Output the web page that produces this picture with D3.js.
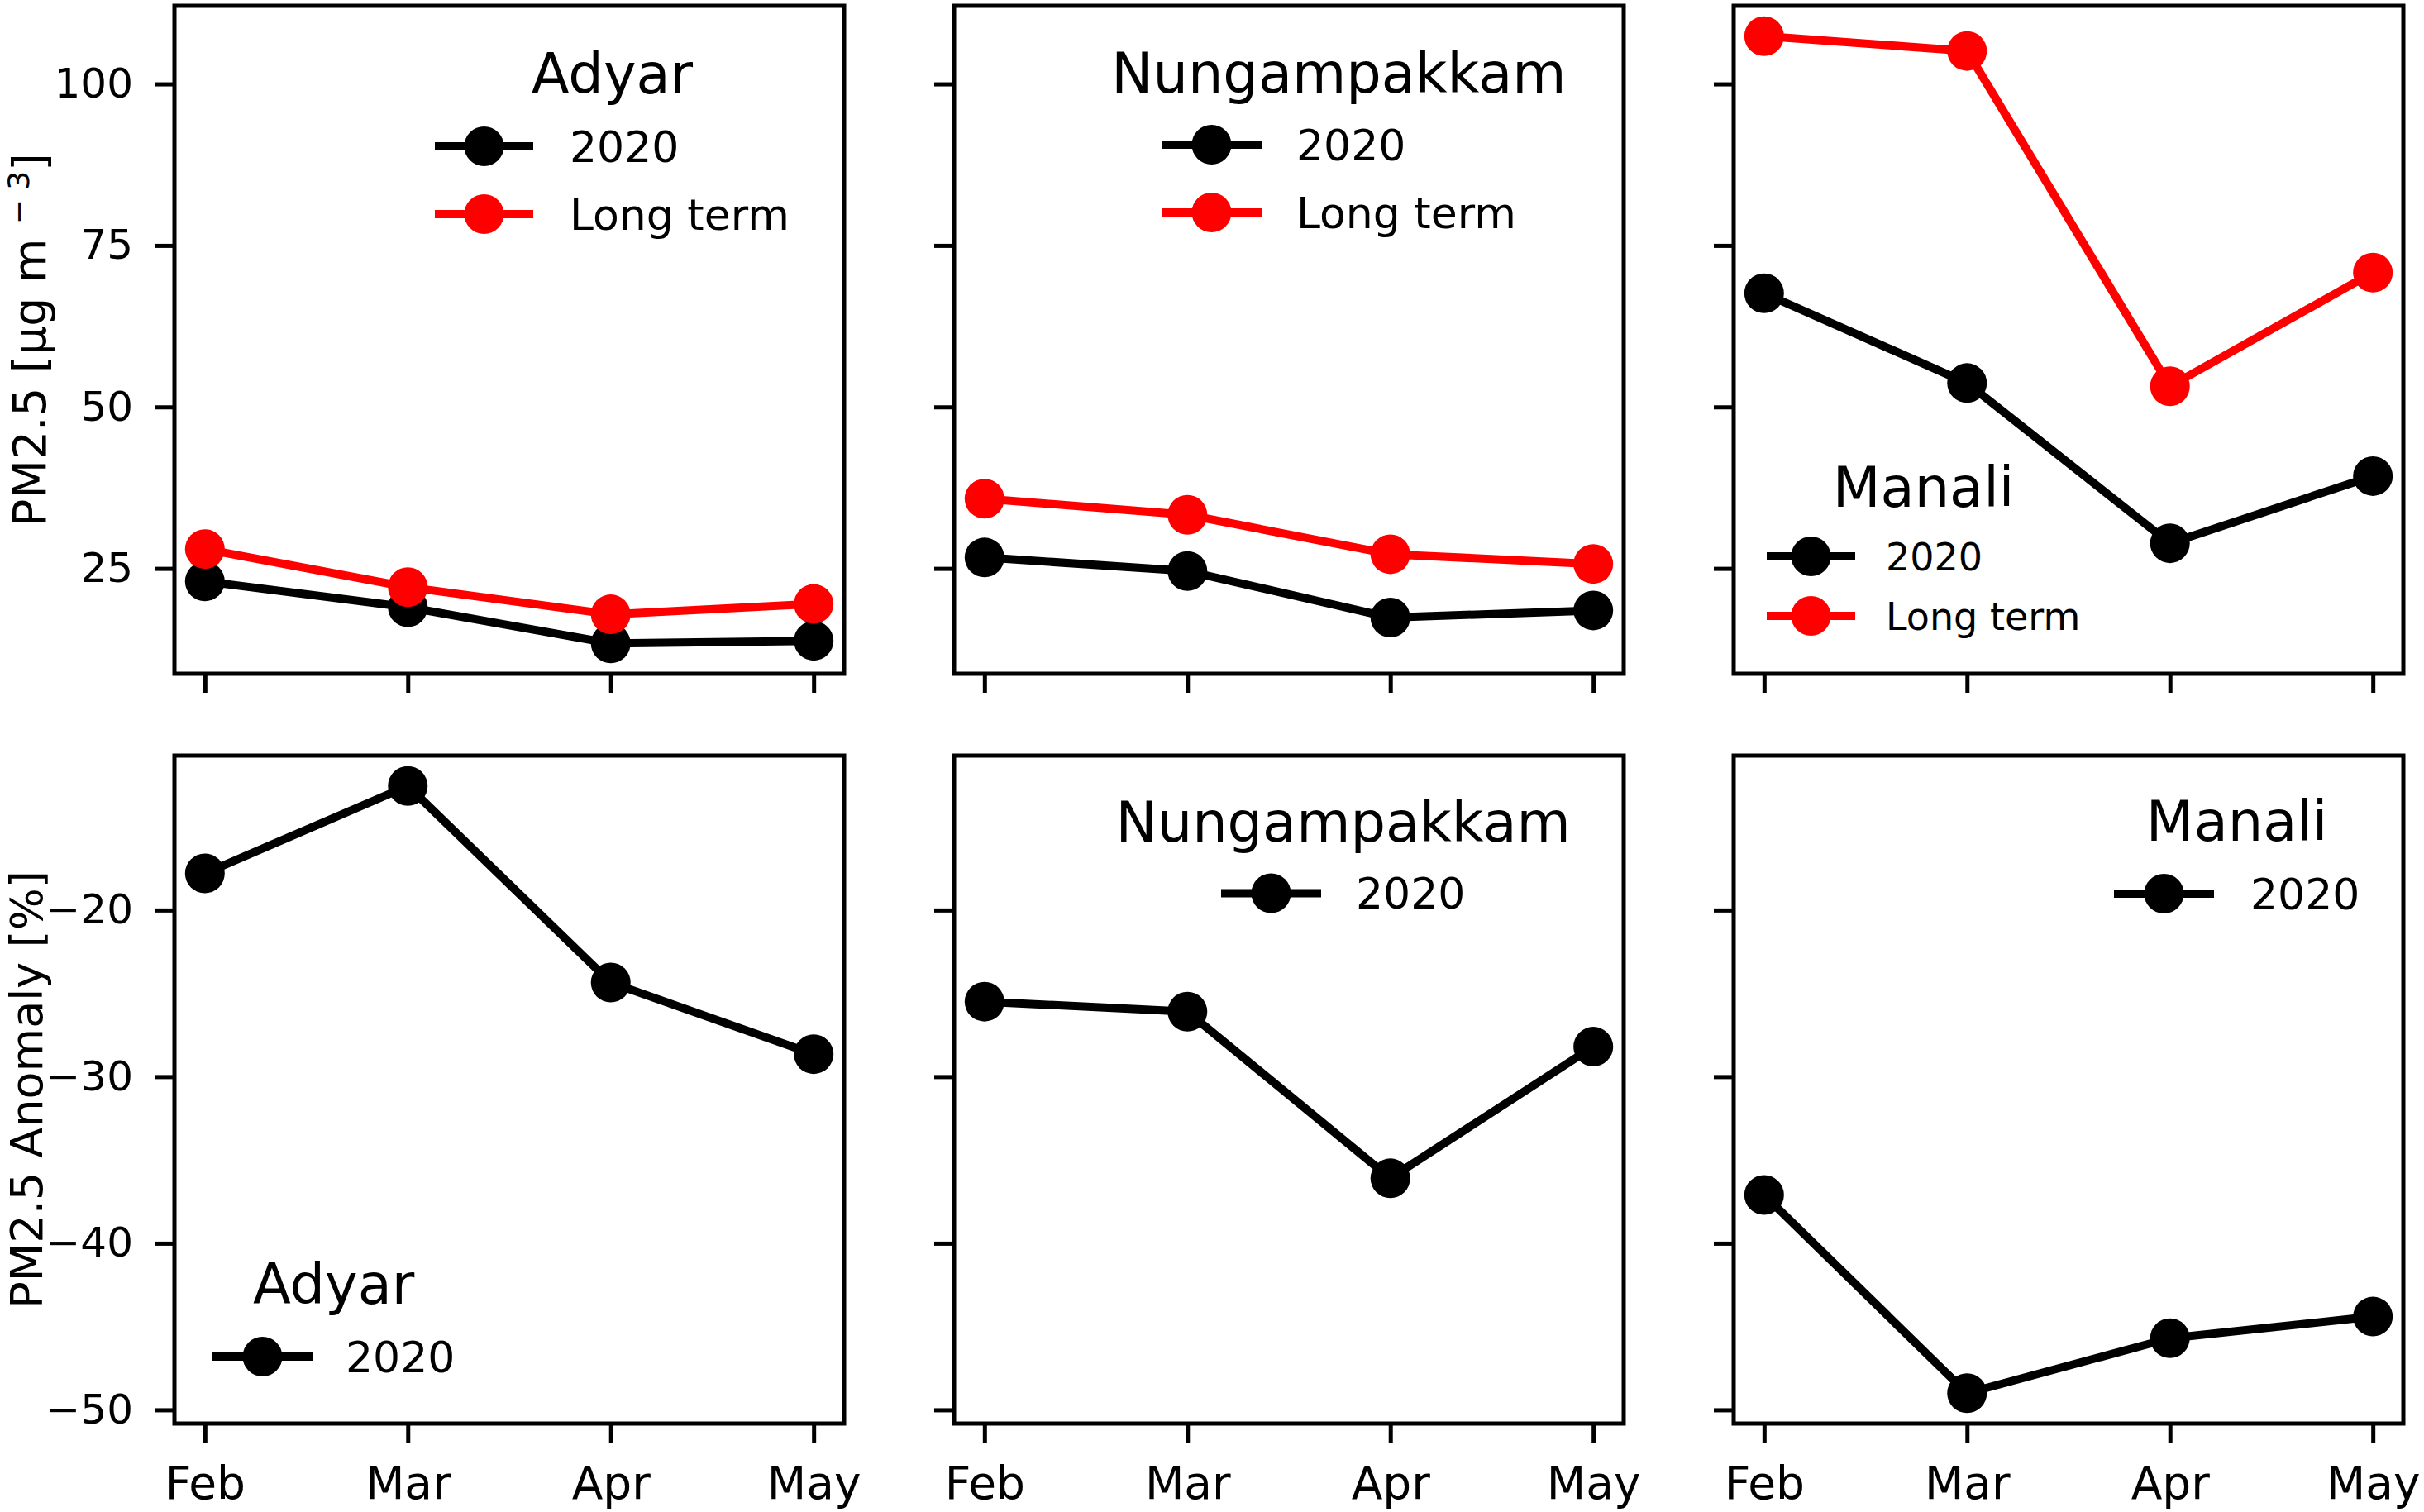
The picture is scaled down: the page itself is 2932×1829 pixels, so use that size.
<!DOCTYPE html>
<html>
<head>
<meta charset="utf-8">
<script src="https://cdn.jsdelivr.net/npm/d3@7"></script>
<style>
  body { margin: 0; background: #fff; }
  text { font-family: "DejaVu Sans", sans-serif; fill: #000; }
</style>
</head>
<body>
<svg id="chart" width="2932" height="1829"></svg>
<script>
// ---------- DATA ----------
const months = ["Feb", "Mar", "Apr", "May"];
const sites = ["Adyar", "Nungampakkam", "Manali"];

// PM2.5 concentration, µg m-3
const adyar2020 = [23.0, 19.0, 13.4, 13.8];
const adyarLongTerm = [28.0, 22.1, 17.9, 19.5];
const nung2020 = [26.7, 24.6, 17.4, 18.5];
const nungLongTerm = [35.8, 33.3, 27.2, 25.7];
const manali2020 = [67.6, 53.7, 28.9, 39.3];
const manaliLongTerm = [107.4, 105.1, 53.2, 70.8];

// PM2.5 anomaly, %
const adyarAnomaly = [-17.8, -12.55, -24.35, -28.65];
const nungAnomaly = [-25.5, -26.1, -36.1, -28.2];
const manaliAnomaly = [-37.1, -49.0, -45.7, -44.4];

const pmTicks = [25, 50, 75, 100];
const anomalyTicks = [-50, -40, -30, -20];
const seriesNames = ["2020", "Long term"];
const seriesColors = ["#000000", "#ff0000"];

// ---------- LAYOUT ----------
const svg = d3.select("#chart");
const colLeft = [211, 1154, 2097];
const panelW = 810;
const rowTop = [7, 914];
const panelH = 808;
const font = "DejaVu Sans";

const xPad = 0.05 * (months.length - 1);
const x = d3
	.scaleLinear()
	.domain([-xPad, months.length - 1 + xPad])
	.range([0, panelW]);

function paddedDomain(arrays) {
	const all = arrays.flat();
	const [lo, hi] = d3.extent(all);
	const pad = (hi - lo) * 0.05;
	return [lo - pad, hi + pad];
}

const yTop = d3
	.scaleLinear()
	.domain(paddedDomain([adyar2020, adyarLongTerm, nung2020, nungLongTerm, manali2020, manaliLongTerm]))
	.range([panelH, 0]);
const yBottom = d3
	.scaleLinear()
	.domain(paddedDomain([adyarAnomaly, nungAnomaly, manaliAnomaly]))
	.range([panelH, 0]);

// legend placement, relative to panel
const panels = [
	{ row: 0, col: 0, y: yTop, ticks: pmTicks, series: [adyar2020, adyarLongTerm],
		legend: { left: 315, title: 106, row0: 170, gap: 82, handle: 119, pad: 44, size: 52 } },
	{ row: 0, col: 1, y: yTop, ticks: pmTicks, series: [nung2020, nungLongTerm],
		legend: { left: 251, title: 105, row0: 168, gap: 82, handle: 121, pad: 42, size: 52 } },
	{ row: 0, col: 2, y: yTop, ticks: pmTicks, series: [manali2020, manaliLongTerm],
		legend: { left: 40, title: 606, row0: 666, gap: 72, handle: 107, pad: 37, size: 46 } },
	{ row: 1, col: 0, y: yBottom, ticks: anomalyTicks, series: [adyarAnomaly],
		legend: { left: 46, title: 663, row0: 727, gap: 82, handle: 121, pad: 40, size: 52 } },
	{ row: 1, col: 1, y: yBottom, ticks: anomalyTicks, series: [nungAnomaly],
		legend: { left: 323, title: 104, row0: 166.5, gap: 82, handle: 121, pad: 42, size: 52 } },
	{ row: 1, col: 2, y: yBottom, ticks: anomalyTicks, series: [manaliAnomaly],
		legend: { left: 460, title: 103, row0: 167, gap: 82, handle: 121, pad: 44, size: 52 } },
];

const line = (y) =>
	d3
		.line()
		.x((d, i) => x(i))
		.y((d) => y(d));

panels.forEach((p) => {
	const g = svg
		.append("g")
		.attr("transform", `translate(${colLeft[p.col]}, ${rowTop[p.row]})`);

	// y axis
	const yAxis = g
		.append("g")
		.call(
			d3
				.axisLeft(p.y)
				.tickValues(p.ticks)
				.tickSize(24)
				.tickPadding(26)
				.tickFormat(p.col === 0 ? d3.format("d") : () => "")
		);
	// x axis
	const xAxis = g
		.append("g")
		.attr("transform", `translate(0, ${panelH})`)
		.call(
			d3
				.axisBottom(x)
				.tickValues(d3.range(months.length))
				.tickSize(23)
				.tickPadding(29)
				.tickFormat(p.row === 1 ? (i) => months[i] : () => "")
		);
	[yAxis, xAxis].forEach((a, ai) => {
		a.select(".domain").remove();
		a.selectAll(".tick line").attr("stroke", "#000").attr("stroke-width", 5);
		a.selectAll(".tick text")
			.attr("font-family", font)
			.attr("font-size", ai === 0 ? 50 : 55)
			.attr("fill", "#000");
	});

	// series lines and markers
	p.series.forEach((vals, si) => {
		const color = seriesColors[si];
		g.append("path")
			.datum(vals)
			.attr("d", line(p.y))
			.attr("fill", "none")
			.attr("stroke", color)
			.attr("stroke-width", 10)
			.attr("stroke-linejoin", "round");
		g.append("g")
			.selectAll("circle")
			.data(vals)
			.join("circle")
			.attr("cx", (d, i) => x(i))
			.attr("cy", (d) => p.y(d))
			.attr("r", 24)
			.attr("fill", color);
	});

	// frame
	g.append("rect")
		.attr("width", panelW)
		.attr("height", panelH)
		.attr("fill", "none")
		.attr("stroke", "#000")
		.attr("stroke-width", 5);

	// legend
	const L = p.legend;
	const lg = g.append("g");
	let maxText = 0;
	p.series.forEach((vals, si) => {
		const cy = L.row0 + si * L.gap;
		lg.append("line")
			.attr("x1", L.left)
			.attr("x2", L.left + L.handle)
			.attr("y1", cy)
			.attr("y2", cy)
			.attr("stroke", seriesColors[si])
			.attr("stroke-width", 10);
		lg.append("circle")
			.attr("cx", L.left + L.handle / 2)
			.attr("cy", cy)
			.attr("r", 24)
			.attr("fill", seriesColors[si]);
		const t = lg
			.append("text")
			.attr("x", L.left + L.handle + L.pad)
			.attr("y", cy)
			.attr("dy", "0.36em")
			.attr("font-size", L.size)
			.text(seriesNames[si]);
		maxText = Math.max(maxText, t.node().getComputedTextLength());
	});
	lg.append("text")
		.attr("x", L.left + (L.handle + L.pad + maxText) / 2)
		.attr("y", L.title)
		.attr("text-anchor", "middle")
		.attr("font-size", 67)
		.text(sites[p.col]);
});

// y labels
const topLabel = svg
	.append("text")
	.attr("transform", `translate(55, ${rowTop[0] + panelH / 2}) rotate(-90)`)
	.attr("text-anchor", "middle")
	.attr("font-size", 55);
topLabel.append("tspan").text("PM2.5 [μg m ");
topLabel.append("tspan").attr("dy", -20).attr("font-size", 36).text("− 3");
topLabel.append("tspan").attr("dy", 20).text("]");

svg.append("text")
	.attr("transform", `translate(51, ${rowTop[1] + panelH / 2}) rotate(-90)`)
	.attr("text-anchor", "middle")
	.attr("font-size", 54)
	.text("PM2.5 Anomaly [%]");
</script>
</body>
</html>
